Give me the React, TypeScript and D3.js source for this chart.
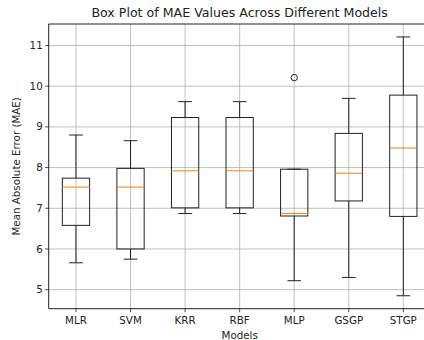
import React from "react";
import { scaleLinear } from "d3";

const models = ["MLR", "SVM", "KRR", "RBF", "MLP", "GSGP", "STGP"];
const whiskerLow = [5.66, 5.75, 6.87, 6.87, 5.22, 5.3, 4.85];
const q1 = [6.58, 6.0, 7.01, 7.01, 6.81, 7.18, 6.8];
const medians = [7.52, 7.52, 7.92, 7.92, 6.87, 7.86, 8.48];
const q3 = [7.74, 7.98, 9.23, 9.23, 7.96, 8.84, 9.78];
const whiskerHigh = [8.8, 8.66, 9.62, 9.62, 7.96, 9.7, 11.21];
const outliers = [[], [], [], [], [10.21], [], []];
const yTicks = [5, 6, 7, 8, 9, 10, 11];

const width = 424;
const height = 340;
const margin = { top: 24, btm: 31.3, left: 48.7 };
const plotRight = 430.6;
const font = "DejaVu Sans, sans-serif";

export default function App() {
  const lo = Math.min(...whiskerLow);
  const hi = Math.max(...whiskerHigh, ...outliers.flat());
  const pad = (hi - lo) * 0.05;

  const xScale = scaleLinear().domain([0.5, models.length + 0.5]).range([margin.left, plotRight]);
  const yScale = scaleLinear().domain([lo - pad, hi + pad]).range([height - margin.btm, margin.top]);
  const unit = xScale(1) - xScale(0);
  const boxW = unit * 0.5;
  const capW = boxW * 0.5;
  const bottom = height - margin.btm;

  return (
    <svg width={width} height={height} style={{ position: "absolute", left: 0, top: 0, background: "white" }} fontFamily={font}>
      {/* grid */}
      {yTicks.map((t) => (
        <line key={"gy" + t} x1={margin.left} x2={plotRight} y1={yScale(t)} y2={yScale(t)} stroke="#b0b0b0" strokeWidth={0.8} />
      ))}
      {models.map((m, i) => (
        <line key={"gx" + m} x1={xScale(i + 1)} x2={xScale(i + 1)} y1={margin.top} y2={bottom} stroke="#b0b0b0" strokeWidth={0.8} />
      ))}

      {/* boxes */}
      {models.map((m, i) => {
        const cx = xScale(i + 1);
        return (
          <g key={m} stroke="#222" strokeWidth={1} fill="none">
            <line x1={cx} x2={cx} y1={yScale(q1[i])} y2={yScale(whiskerLow[i])} />
            <line x1={cx} x2={cx} y1={yScale(q3[i])} y2={yScale(whiskerHigh[i])} />
            <line x1={cx - capW / 2} x2={cx + capW / 2} y1={yScale(whiskerLow[i])} y2={yScale(whiskerLow[i])} />
            <line x1={cx - capW / 2} x2={cx + capW / 2} y1={yScale(whiskerHigh[i])} y2={yScale(whiskerHigh[i])} />
            <rect x={cx - boxW / 2} y={yScale(q3[i])} width={boxW} height={yScale(q1[i]) - yScale(q3[i])} />
            <line x1={cx - boxW / 2} x2={cx + boxW / 2} y1={yScale(medians[i])} y2={yScale(medians[i])} stroke="#ff7f0e" />
            {outliers[i].map((o, j) => (
              <circle key={j} cx={cx} cy={yScale(o)} r={3.2} />
            ))}
          </g>
        );
      })}

      {/* axes */}
      <line x1={margin.left} x2={margin.left} y1={margin.top} y2={bottom} stroke="#222" strokeWidth={1} />
      <line x1={margin.left} x2={plotRight} y1={margin.top} y2={margin.top} stroke="#222" strokeWidth={1} />
      <line x1={margin.left} x2={plotRight} y1={bottom} y2={bottom} stroke="#222" strokeWidth={1} />

      {yTicks.map((t) => (
        <g key={"ty" + t}>
          <line x1={margin.left - 3.5} x2={margin.left} y1={yScale(t)} y2={yScale(t)} stroke="#222" strokeWidth={0.8} />
          <text x={margin.left - 6} y={yScale(t)} dy="0.35em" textAnchor="end" fontSize={10.3} fill="#222">
            {t}
          </text>
        </g>
      ))}
      {models.map((m, i) => (
        <g key={"tx" + m}>
          <line x1={xScale(i + 1)} x2={xScale(i + 1)} y1={bottom} y2={bottom + 3.5} stroke="#222" strokeWidth={0.8} />
          <text x={xScale(i + 1)} y={bottom + 14.8} textAnchor="middle" fontSize={10.3} fill="#222">
            {m}
          </text>
        </g>
      ))}

      <text x={(margin.left + plotRight) / 2} y={16.5} textAnchor="middle" fontSize={12.6} fill="#222">
        Box Plot of MAE Values Across Different Models
      </text>
      <text x={(margin.left + plotRight) / 2} y={338.5} textAnchor="middle" fontSize={10.3} fill="#222">
        Models
      </text>
      <text
        transform={`translate(19.8,${(margin.top + bottom) / 2}) rotate(-90)`}
        textAnchor="middle"
        fontSize={10.3}
        fill="#222"
      >
        Mean Absolute Error (MAE)
      </text>
    </svg>
  );
}
